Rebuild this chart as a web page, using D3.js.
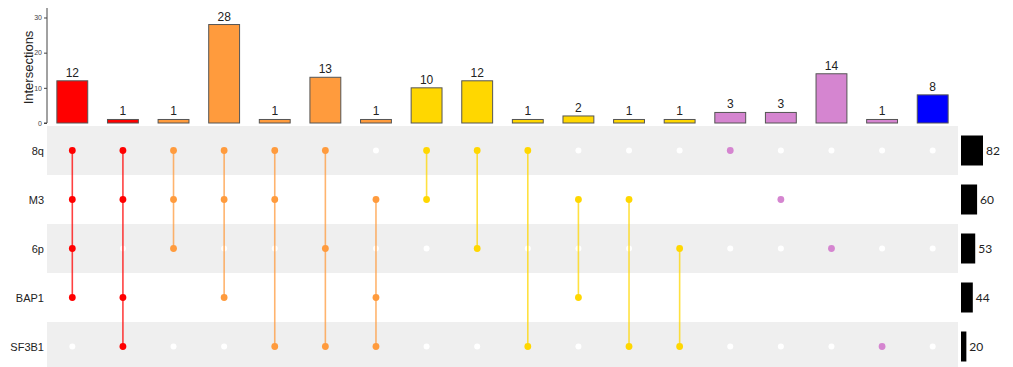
<!DOCTYPE html>
<html>
<head>
<meta charset="utf-8">
<script src="https://cdn.jsdelivr.net/npm/d3@7"></script>
<style>
  html, body { margin: 0; padding: 0; background: #fff; }
  svg { display: block; }
</style>
</head>
<body>
<div id="chart"></div>
<script>
// Sets shown as matrix rows, top to bottom
const sets = ["8q", "M3", "6p", "BAP1", "SF3B1"];
const setSizes = [82, 60, 53, 44, 20];

// Intersections, left to right
const intersectionCounts = [12, 1, 1, 28, 1, 13, 1, 10, 12, 1, 2, 1, 1, 3, 3, 14, 1, 8];
const intersectionMembers = [
  ["8q", "M3", "6p", "BAP1"],
  ["8q", "M3", "BAP1", "SF3B1"],
  ["8q", "M3", "6p"],
  ["8q", "M3", "BAP1"],
  ["8q", "M3", "SF3B1"],
  ["8q", "6p", "SF3B1"],
  ["M3", "BAP1", "SF3B1"],
  ["8q", "M3"],
  ["8q", "6p"],
  ["8q", "SF3B1"],
  ["M3", "BAP1"],
  ["M3", "SF3B1"],
  ["6p", "SF3B1"],
  ["8q"],
  ["M3"],
  ["6p"],
  ["SF3B1"],
  []
];
// Colour group per intersection (by number of sets involved)
const intersectionGroup = [4, 4, 3, 3, 3, 3, 3, 2, 2, 2, 2, 2, 2, 1, 1, 1, 1, 0];
const yTicks = [0, 10, 20, 30];

const groupColor = {4: "#ff0000", 3: "#ff9b3d", 2: "#ffd700", 1: "#d585d0", 0: "#0000ff"};

const W = 1013, H = 367;
const svg = d3.select("#chart").append("svg").attr("width", W).attr("height", H);

const left = 47, right = 958;
const barBase = 123, barTop = 8;
const matrixTop = 126, rowH = 49;

const x = d3.scaleBand()
  .domain(d3.range(intersectionCounts.length))
  .range([left, right])
  .paddingInner(0.39)
  .paddingOuter(0.195);

const y = d3.scaleLinear().domain([0, 32.7]).range([barBase, barTop]);

const rowY = d3.scaleBand().domain(sets).range([matrixTop, matrixTop + rowH * sets.length]);

// Matrix background stripes
svg.append("g").selectAll("rect")
  .data(sets)
  .join("rect")
  .attr("x", left)
  .attr("y", d => rowY(d))
  .attr("width", right - left)
  .attr("height", rowY.bandwidth())
  .attr("fill", (d, i) => i % 2 === 0 ? "#efefef" : "#ffffff");

// Intersection size bars
svg.append("g").selectAll("rect")
  .data(intersectionCounts)
  .join("rect")
  .attr("x", (d, i) => x(i))
  .attr("y", d => y(d))
  .attr("width", x.bandwidth())
  .attr("height", d => y(0) - y(d))
  .attr("fill", (d, i) => groupColor[intersectionGroup[i]])
  .attr("stroke", "#555")
  .attr("stroke-width", 1);

svg.append("g").selectAll("text")
  .data(intersectionCounts)
  .join("text")
  .attr("x", (d, i) => x(i) + x.bandwidth() / 2)
  .attr("y", d => y(d) - 4)
  .attr("text-anchor", "middle")
  .attr("font-family", "Liberation Sans, Arial, sans-serif")
  .attr("font-size", 12)
  .attr("fill", "#222")
  .text(d => d);

// Y axis
const yAxis = svg.append("g")
  .attr("transform", `translate(${left},0)`)
  .call(d3.axisLeft(y).tickValues(yTicks).tickSize(3).tickPadding(2));
yAxis.select(".domain").attr("stroke", "#444").attr("d", `M-3,${y(0)}H0V${barTop}`);
yAxis.selectAll(".tick line").attr("stroke", "#444");
yAxis.selectAll(".tick text")
  .attr("font-family", "Liberation Sans, Arial, sans-serif")
  .attr("font-size", 7)
  .attr("fill", "#444");

svg.append("text")
  .attr("transform", `translate(33,${(barBase + barTop) / 2 + 2}) rotate(-90)`)
  .attr("text-anchor", "middle")
  .attr("font-family", "Liberation Sans, Arial, sans-serif")
  .attr("font-size", 13)
  .attr("fill", "#222")
  .text("Intersections");

// Row labels
svg.append("g").selectAll("text")
  .data(sets)
  .join("text")
  .attr("x", 44)
  .attr("y", d => rowY(d) + rowY.bandwidth() / 2 + 4)
  .attr("text-anchor", "end")
  .attr("font-family", "Liberation Sans, Arial, sans-serif")
  .attr("font-size", 11)
  .attr("fill", "#222")
  .text(d => d);

// Matrix: empty dots, then connecting lines, then filled dots
const cy = s => rowY(s) + rowY.bandwidth() / 2;
const empties = svg.append("g");
const lines = svg.append("g");
const filled = svg.append("g");
intersectionMembers.forEach((members, i) => {
  const cx = x(i) + x.bandwidth() / 2;
  const col = groupColor[intersectionGroup[i]];
  sets.forEach(s => {
    if (!members.includes(s)) {
      empties.append("circle").attr("cx", cx).attr("cy", cy(s)).attr("r", 3).attr("fill", "#ffffff");
    }
  });
  if (members.length > 1) {
    const ys = members.map(cy);
    lines.append("line")
      .attr("x1", cx).attr("x2", cx)
      .attr("y1", d3.min(ys)).attr("y2", d3.max(ys))
      .attr("stroke", col)
      .attr("stroke-opacity", 0.75)
      .attr("stroke-width", 1.6);
  }
  members.forEach(s => {
    filled.append("circle").attr("cx", cx).attr("cy", cy(s)).attr("r", 3.4).attr("fill", col);
  });
});

// Set size bars
const sx = d3.scaleLinear().domain([0, 82]).range([0, 22]);
const setX = 961;
svg.append("g").selectAll("rect")
  .data(setSizes)
  .join("rect")
  .attr("x", setX)
  .attr("y", (d, i) => cy(sets[i]) - 15)
  .attr("width", d => sx(d))
  .attr("height", 30)
  .attr("fill", "#000");

svg.append("g").selectAll("text")
  .data(setSizes)
  .join("text")
  .attr("x", d => setX + sx(d) + 3)
  .attr("y", (d, i) => cy(sets[i]) + 4)
  .attr("font-family", "Lato, Open Sans, sans-serif")
  .attr("font-size", 12)
  .attr("fill", "#222")
  .text(d => d);
</script>
</body>
</html>
